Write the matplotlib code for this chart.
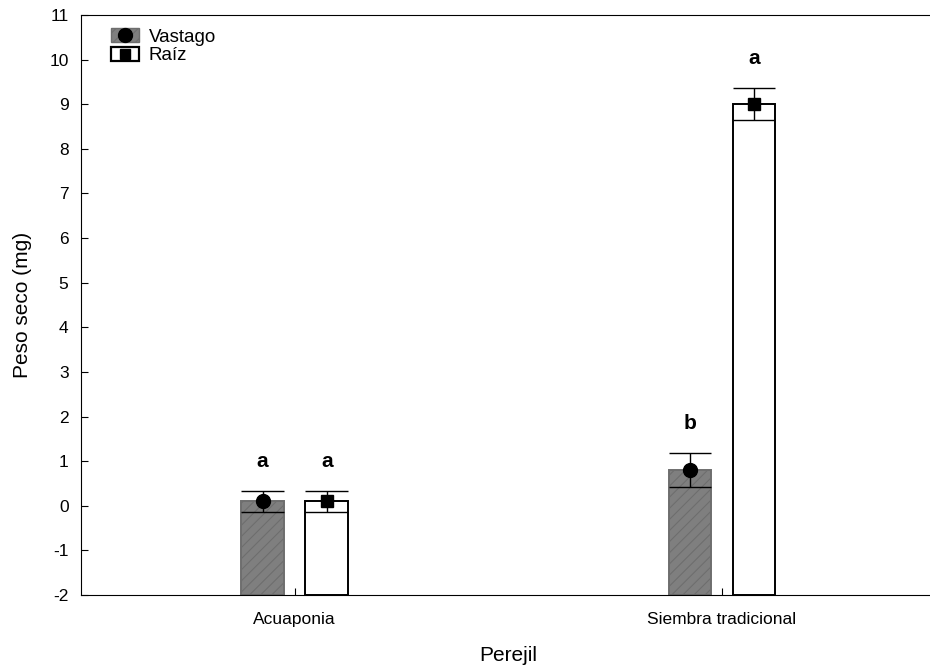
import numpy as np
import matplotlib
matplotlib.use("Agg")
import matplotlib.pyplot as plt
from matplotlib.patches import Patch
from matplotlib.lines import Line2D

plt.rcParams['font.family'] = ['Liberation Sans', 'DejaVu Sans']
plt.rcParams['hatch.linewidth'] = 0.8
plt.rcParams['axes.unicode_minus'] = False

groups = ["Acuaponia", "Siembra tradicional"]
series = ["Vastago", "Raíz"]
vastago = [0.10, 0.80]
vastago_err = [0.24, 0.38]
raiz = [0.10, 9.00]
raiz_err = [0.23, 0.36]
letters_v = ["a", "b"]
letters_r = ["a", "a"]
yticks = list(range(-2, 12))

fig = plt.figure(figsize=(9.3, 6.66), dpi=100)
ax = fig.add_axes([0.0871, 0.1066, 0.919, 0.871])
base = -2
w = 0.1
off = 0.075
x = np.arange(len(groups))

def draw(xs, vals, errs, letters, face, edge, hatch, marker):
    ax.bar(xs, np.array(vals) - base, w, bottom=base, color=face,
           edgecolor=edge, hatch=hatch, linewidth=1.4, zorder=2)
    for xi, v, e, l in zip(xs, vals, errs, letters):
        ax.vlines(xi, v - e, v + e, color='black', lw=1.0, zorder=3)
        ax.hlines([v - e, v + e], xi - w / 2, xi + w / 2, color='black', lw=1.0, zorder=3)
        ax.text(xi, v + e + 0.45, l, ha='center', va='bottom', fontsize=15,
                fontweight='bold')
    ax.plot(xs, vals, linestyle='none', marker=marker, color='black',
            markersize=10 if marker == 'o' else 8.5, zorder=4)

draw(x - off, vastago, vastago_err, letters_v, '#7f7f7f', '#6e6e6e', '///', 'o')
draw(x + off, raiz, raiz_err, letters_r, 'white', 'black', None, 's')

ax.set_xlim(-0.5, 1.5)
ax.set_ylim(-2, 11)
ax.set_yticks(yticks)
ax.set_xticks(x)
ax.set_xticklabels(groups)
ax.tick_params(direction='in', length=5, labelsize=12.5, pad=9)
ax.tick_params(axis='x', pad=12)
ax.spines['right'].set_visible(False)
ax.set_ylabel("Peso seco (mg)", fontsize=15, labelpad=12)
ax.set_xlabel("Perejil", fontsize=15, labelpad=14)

h1 = (Patch(facecolor='#7f7f7f', edgecolor='#6e6e6e', hatch='///'),
      Line2D([], [], marker='o', color='black', linestyle='none', markersize=10))
h2 = (Patch(facecolor='white', edgecolor='black', linewidth=1.6),
      Line2D([], [], marker='s', color='black', linestyle='none', markersize=7))
ax.legend([h1, h2], series, loc='upper left', frameon=False, fontsize=13.5,
          handlelength=1.5, handleheight=0.8, labelspacing=0.05,
          borderaxespad=0.3, handletextpad=0.5, bbox_to_anchor=(0.02, 1.0))

fig.savefig("out.png", dpi=100)
